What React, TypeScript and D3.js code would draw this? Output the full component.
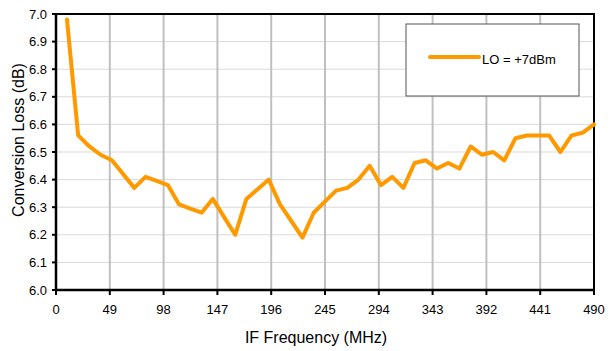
import React from "react";
import * as d3 from "d3";

const freqs = [10.0, 20.2, 30.4, 40.6, 50.9, 61.1, 71.3, 81.5, 91.7, 101.9, 112.1, 122.3, 132.6, 142.8, 153.0, 163.2, 173.4, 183.6, 193.8, 204.0, 214.3, 224.5, 234.7, 244.9, 255.1, 265.3, 275.5, 285.7, 296.0, 306.2, 316.4, 326.6, 336.8, 347.0, 357.2, 367.4, 377.7, 387.9, 398.1, 408.3, 418.5, 428.7, 438.9, 449.1, 459.4, 469.6, 479.8, 490.0];
const loss = [6.98, 6.56, 6.52, 6.49, 6.47, 6.42, 6.37, 6.41, 6.395, 6.38, 6.31, 6.295, 6.28, 6.33, 6.265, 6.2, 6.33, 6.365, 6.4, 6.31, 6.25, 6.19, 6.28, 6.32, 6.36, 6.37, 6.4, 6.45, 6.38, 6.41, 6.37, 6.46, 6.47, 6.44, 6.46, 6.44, 6.52, 6.49, 6.5, 6.47, 6.55, 6.56, 6.56, 6.56, 6.5, 6.56, 6.57, 6.6];
const xTicks = [0, 49, 98, 147, 196, 245, 294, 343, 392, 441, 490];
const yTicks = [6.0, 6.1, 6.2, 6.3, 6.4, 6.5, 6.6, 6.7, 6.8, 6.9, 7.0];
const seriesName = "LO = +7dBm";
const xTitle = "IF Frequency (MHz)";
const yTitle = "Conversion Loss (dB)";

export default function App() {
  const W = 615, H = 351;
  const left = 56, right = 594, top = 14, bottom = 290;
  const x = d3.scaleLinear().domain([0, 490]).range([left, right]);
  const y = d3.scaleLinear().domain([6.0, 7.0]).range([bottom, top]);
  const line = d3.line<number>().x((_, i) => x(freqs[i])).y((d) => y(d));
  const font = "'Liberation Sans', Arial, sans-serif";
  return (
    <svg width={W} height={H} style={{ position: "absolute", left: 0, top: 0 }} fontFamily={font}>
      <rect width={W} height={H} fill="#fff" />
      {yTicks.map((t) => (
        <line key={"h" + t} x1={left} x2={right} y1={y(t)} y2={y(t)} stroke="#d9d9d9" strokeWidth={1} />
      ))}
      {xTicks.map((t) => (
        <line key={"v" + t} x1={x(t)} x2={x(t)} y1={top} y2={bottom} stroke="#c0c0c0" strokeWidth={2} />
      ))}
      <rect x={left} y={top} width={right - left} height={bottom - top} fill="none" stroke="#000" strokeWidth={2} />
      <line x1={left} x2={left} y1={top} y2={bottom} stroke="#000" strokeWidth={2.5} />
      <line x1={left} x2={right} y1={bottom} y2={bottom} stroke="#000" strokeWidth={2.5} />
      {yTicks.map((t) => (
        <g key={"yt" + t}>
          <line x1={left - 4} x2={left} y1={y(t)} y2={y(t)} stroke="#000" strokeWidth={2} />
          <text x={left - 9} y={y(t) + 4.5} textAnchor="end" fontSize={13} fill="#000">{t.toFixed(1)}</text>
        </g>
      ))}
      {xTicks.map((t) => (
        <g key={"xt" + t}>
          <line x1={x(t)} x2={x(t)} y1={bottom} y2={bottom + 5} stroke="#000" strokeWidth={2} />
          <text x={x(t)} y={bottom + 23.5} textAnchor="middle" fontSize={13} fill="#000">{t}</text>
        </g>
      ))}
      <path d={line(loss) || ""} fill="none" stroke="#ff9900" strokeWidth={4} strokeLinejoin="round" strokeLinecap="round" />
      <text x={316} y={343} textAnchor="middle" fontSize={16} fill="#000">{xTitle}</text>
      <text transform={`translate(24, 140) rotate(-90)`} textAnchor="middle" fontSize={16} fill="#000">{yTitle}</text>
      <rect x={406} y={24} width={173} height={72} fill="#fff" stroke="#555" strokeWidth={1} />
      <line x1={430} x2={479} y1={57} y2={57} stroke="#ff9900" strokeWidth={4} strokeLinecap="round" />
      <text x={482} y={64} fontSize={13} fill="#000">{seriesName}</text>
    </svg>
  );
}
